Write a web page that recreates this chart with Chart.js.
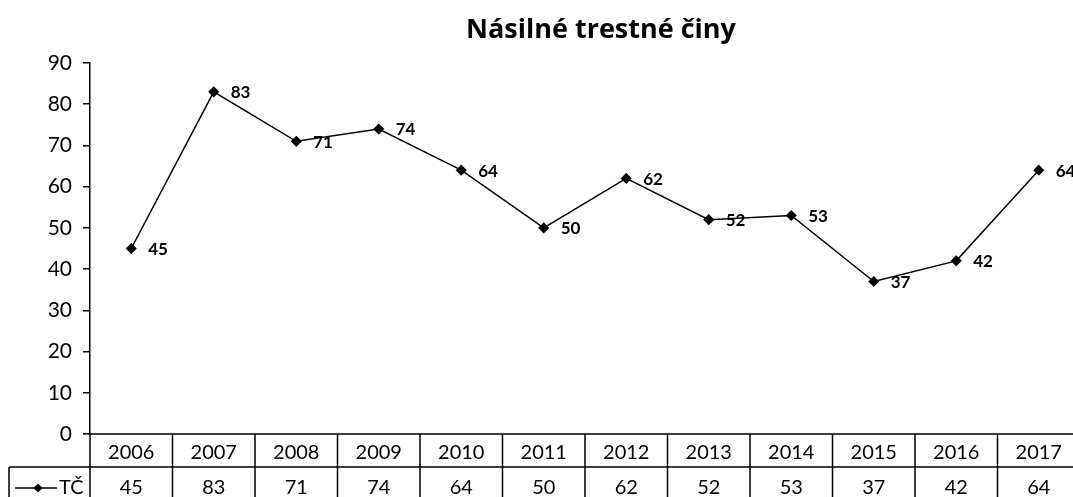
<!DOCTYPE html>
<html>
<head>
<meta charset="utf-8">
<script src="https://cdn.jsdelivr.net/npm/chart.js@4.4.1/dist/chart.umd.min.js"></script>
<style>
  html, body { margin: 0; padding: 0; background: #fff; overflow: hidden; width: 1073px; height: 497px; }
  canvas { display: block; }
</style>
</head>
<body>
<canvas id="c" width="1086" height="497"></canvas>
<script>
const chartTitle = 'Násilné trestné činy';
const seriesName = 'TČ';
const years = ['2006','2007','2008','2009','2010','2011','2012','2013','2014','2015','2016','2017'];
const values = [45, 83, 71, 74, 64, 50, 62, 52, 53, 37, 42, 64];
const yMin = 0, yMax = 90, yStep = 10;

const FONT = 'Lato, "Open Sans", sans-serif';
const TITLE_FONT = '"Open Sans", Lato, sans-serif';

const tablePlugin = {
  id: 'tablePlugin',
  afterDatasetsDraw(chart) {
    const ctx = chart.ctx;
    const meta = chart.getDatasetMeta(0);
    ctx.save();
    ctx.fillStyle = '#000';
    ctx.font = 'bold 17px ' + FONT;
    ctx.textAlign = 'left';
    ctx.textBaseline = 'middle';
    meta.data.forEach((pt, i) => {
      ctx.fillText(String(values[i]), pt.x + 17, pt.y + 1);
    });
    ctx.restore();
  },
  afterDraw(chart) {
    const ctx = chart.ctx;
    const area = chart.chartArea;
    const n = years.length;
    const catW = (area.right - area.left) / n;
    const top = area.bottom;
    const r1 = top + 33;
    const bottom = chart.height + 10;
    ctx.save();
    ctx.fillStyle = '#000';
    ctx.font = 'bold 27px ' + TITLE_FONT;
    ctx.textAlign = 'center';
    ctx.textBaseline = 'alphabetic';
    ctx.fillText(chartTitle, 601, 38);

    ctx.strokeStyle = '#000';
    ctx.lineWidth = 1.5;
    ctx.beginPath();
    ctx.moveTo(area.left, top); ctx.lineTo(chart.width + 2, top);
    ctx.moveTo(9, r1); ctx.lineTo(chart.width + 2, r1);
    ctx.moveTo(9, r1); ctx.lineTo(9, bottom);
    for (let k = 0; k <= n; k++) {
      const x = area.left + k * catW;
      ctx.moveTo(x, top); ctx.lineTo(x, bottom);
    }
    ctx.stroke();
    ctx.font = '20px ' + FONT;
    ctx.textAlign = 'center';
    ctx.textBaseline = 'middle';
    for (let k = 0; k < n; k++) {
      const cx = chart.scales.x.getPixelForValue(k);
      ctx.fillText(years[k], cx, top + 19);
      ctx.fillText(String(values[k]), cx, r1 + 21);
    }
    const ly = r1 + 21;
    ctx.beginPath();
    ctx.moveTo(15, ly); ctx.lineTo(57, ly);
    ctx.stroke();
    ctx.beginPath();
    ctx.moveTo(38, ly - 4.5); ctx.lineTo(42.5, ly); ctx.lineTo(38, ly + 4.5); ctx.lineTo(33.5, ly);
    ctx.closePath();
    ctx.fill();
    ctx.textAlign = 'left';
    ctx.fillText(seriesName, 59, ly);
    ctx.restore();
  }
};

new Chart(document.getElementById('c'), {
  type: 'line',
  data: {
    labels: years,
    datasets: [{
      label: seriesName,
      data: values,
      borderColor: '#000',
      backgroundColor: '#000',
      borderWidth: 1.5,
      pointStyle: 'rectRot',
      pointRadius: 4.5,
      pointHoverRadius: 4.5,
      pointBackgroundColor: '#000',
      pointBorderColor: '#000',
      tension: 0,
      fill: false,
      clip: false
    }]
  },
  options: {
    responsive: false,
    animation: false,
    devicePixelRatio: 1,
    layout: { padding: { top: 63, bottom: 63, left: 0, right: 0 } },
    plugins: {
      legend: { display: false },
      tooltip: { enabled: false },
      title: { display: false }
    },
    scales: {
      x: {
        type: 'category',
        offset: true,
        display: false
      },
      y: {
        min: yMin,
        max: yMax,
        ticks: {
          stepSize: yStep,
          color: '#000',
          font: { family: FONT, size: 21 },
          padding: 11
        },
        grid: {
          drawOnChartArea: false,
          drawTicks: true,
          tickLength: 7,
          color: '#000',
          lineWidth: 1.5
        },
        border: { display: true, color: '#000', width: 1.5 },
        afterFit(scale) { scale.width = 90; }
      }
    }
  },
  plugins: [tablePlugin]
});
</script>
</body>
</html>
